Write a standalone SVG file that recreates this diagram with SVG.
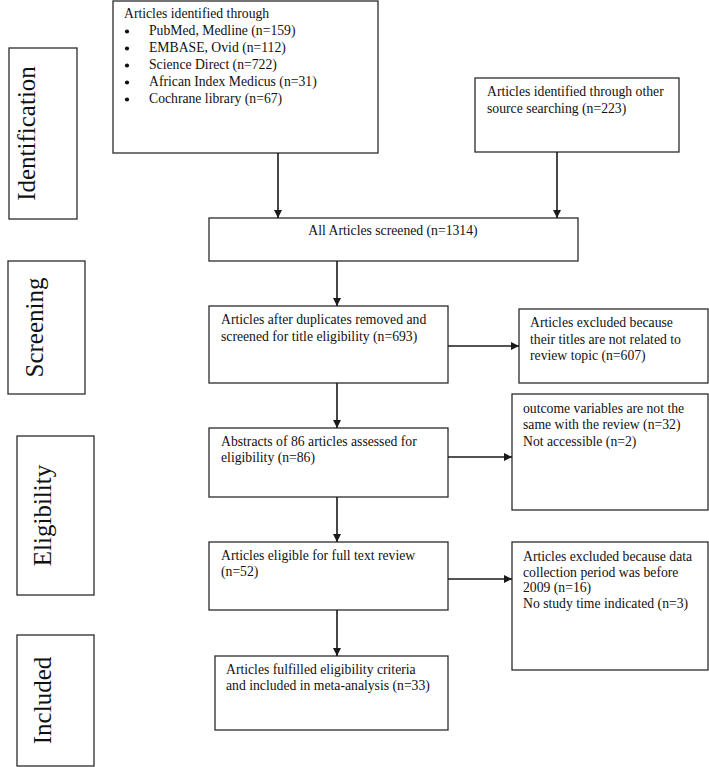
<svg xmlns="http://www.w3.org/2000/svg" width="709" height="767" viewBox="0 0 709 767">
  <style>
    .box { fill: #ffffff; stroke: #2b2b2b; stroke-width: 1.3; }
    .conn { fill: none; stroke: #1a1a1a; stroke-width: 1.6; }
    .t { font-family: "Liberation Serif", "Times New Roman", serif; font-size: 13.7px; fill: #111111; }
    .stage { font-family: "Liberation Serif", "Times New Roman", serif; font-size: 25px; fill: #111111; text-anchor: middle; }
    .bullet { fill: #111111; }
  </style>
  <defs>
    <marker id="arrow" viewBox="0 0 10 10" refX="10" refY="5" markerUnits="userSpaceOnUse" markerWidth="9" markerHeight="8" orient="auto">
      <path d="M0,0 L10,5 L0,10 Z" fill="#1a1a1a"/>
    </marker>
  </defs>
  <rect width="709" height="767" fill="#ffffff"/>

  <g id="stage-identification">
    <rect class="box" x="9" y="48" width="68" height="171"/>
    <text class="stage" transform="translate(35,133.5) rotate(-90)">Identification</text>
  </g>
  <g id="stage-screening">
    <rect class="box" x="8" y="261" width="77" height="133"/>
    <text class="stage" transform="translate(43,327.5) rotate(-90)">Screening</text>
  </g>
  <g id="stage-eligibility">
    <rect class="box" x="17" y="436" width="77" height="159"/>
    <text class="stage" transform="translate(51,515.5) rotate(-90)">Eligibility</text>
  </g>
  <g id="stage-included">
    <rect class="box" x="17" y="635" width="77" height="131"/>
    <text class="stage" transform="translate(51,700.5) rotate(-90)">Included</text>
  </g>

  <g id="node-databases">
    <rect class="box" x="113" y="1" width="265" height="152"/>
    <text class="t" x="124" y="17.5">Articles identified through</text>
    <circle class="bullet" cx="127" cy="31.5" r="2.1"/>
    <circle class="bullet" cx="127" cy="48.5" r="2.1"/>
    <circle class="bullet" cx="127" cy="65.5" r="2.1"/>
    <circle class="bullet" cx="127" cy="82.5" r="2.1"/>
    <circle class="bullet" cx="127" cy="99.5" r="2.1"/>
    <text class="t" x="149" y="35">PubMed, Medline (n=159)</text>
    <text class="t" x="149" y="52">EMBASE, Ovid (n=112)</text>
    <text class="t" x="149" y="69">Science Direct (n=722)</text>
    <text class="t" x="149" y="86">African Index Medicus (n=31)</text>
    <text class="t" x="149" y="103">Cochrane library (n=67)</text>
  </g>

  <g id="node-other-sources">
    <rect class="box" x="475" y="78" width="204" height="74"/>
    <text class="t" x="487" y="96">Articles identified through other</text>
    <text class="t" x="487" y="113">source searching (n=223)</text>
  </g>

  <g id="node-all-screened">
    <rect class="box" x="209" y="218" width="369" height="43"/>
    <text class="t" x="393" y="235" text-anchor="middle">All Articles screened (n=1314)</text>
  </g>

  <g id="node-after-duplicates">
    <rect class="box" x="209" y="306" width="239" height="77"/>
    <text class="t" x="221" y="324">Articles after duplicates removed and</text>
    <text class="t" x="221" y="340.5">screened for title eligibility (n=693)</text>
  </g>

  <g id="node-excluded-titles">
    <rect class="box" x="519" y="309" width="189" height="74"/>
    <text class="t" x="530" y="327">Articles excluded because</text>
    <text class="t" x="530" y="343.5">their titles are not related to</text>
    <text class="t" x="530" y="360">review topic (n=607)</text>
  </g>

  <g id="node-abstracts">
    <rect class="box" x="209" y="428" width="239" height="69"/>
    <text class="t" x="221" y="446">Abstracts of 86 articles assessed for</text>
    <text class="t" x="221" y="462">eligibility (n=86)</text>
  </g>

  <g id="node-excluded-abstracts">
    <rect class="box" x="512" y="394" width="196" height="116"/>
    <text class="t" x="523" y="412.5">outcome variables are not the</text>
    <text class="t" x="523" y="429">same with the review (n=32)</text>
    <text class="t" x="523" y="445.5">Not accessible (n=2)</text>
  </g>

  <g id="node-full-text">
    <rect class="box" x="209" y="542" width="239" height="68"/>
    <text class="t" x="221" y="560">Articles eligible for full text review</text>
    <text class="t" x="221" y="576">(n=52)</text>
  </g>

  <g id="node-excluded-full-text">
    <rect class="box" x="512" y="542" width="196" height="128"/>
    <text class="t" x="523" y="560.5">Articles excluded because data</text>
    <text class="t" x="523" y="576.5">collection period was before</text>
    <text class="t" x="523" y="592">2009 (n=16)</text>
    <text class="t" x="523" y="608">No study time indicated (n=3)</text>
  </g>

  <g id="node-included">
    <rect class="box" x="215" y="656" width="233" height="74"/>
    <text class="t" x="226" y="674">Articles fulfilled eligibility criteria</text>
    <text class="t" x="226" y="690">and included in meta-analysis (n=33)</text>
  </g>

  <g id="connectors">
    <line class="conn" x1="278" y1="153" x2="278" y2="218" marker-end="url(#arrow)"/>
    <line class="conn" x1="557" y1="152" x2="557" y2="218" marker-end="url(#arrow)"/>
    <line class="conn" x1="337" y1="261" x2="337" y2="306" marker-end="url(#arrow)"/>
    <line class="conn" x1="337" y1="383" x2="337" y2="428" marker-end="url(#arrow)"/>
    <line class="conn" x1="337" y1="497" x2="337" y2="542" marker-end="url(#arrow)"/>
    <line class="conn" x1="337" y1="610" x2="337" y2="656" marker-end="url(#arrow)"/>
    <line class="conn" x1="448" y1="346" x2="519" y2="346" marker-end="url(#arrow)"/>
    <line class="conn" x1="448" y1="457" x2="512" y2="457" marker-end="url(#arrow)"/>
    <line class="conn" x1="448" y1="579" x2="512" y2="579" marker-end="url(#arrow)"/>
  </g>
</svg>
